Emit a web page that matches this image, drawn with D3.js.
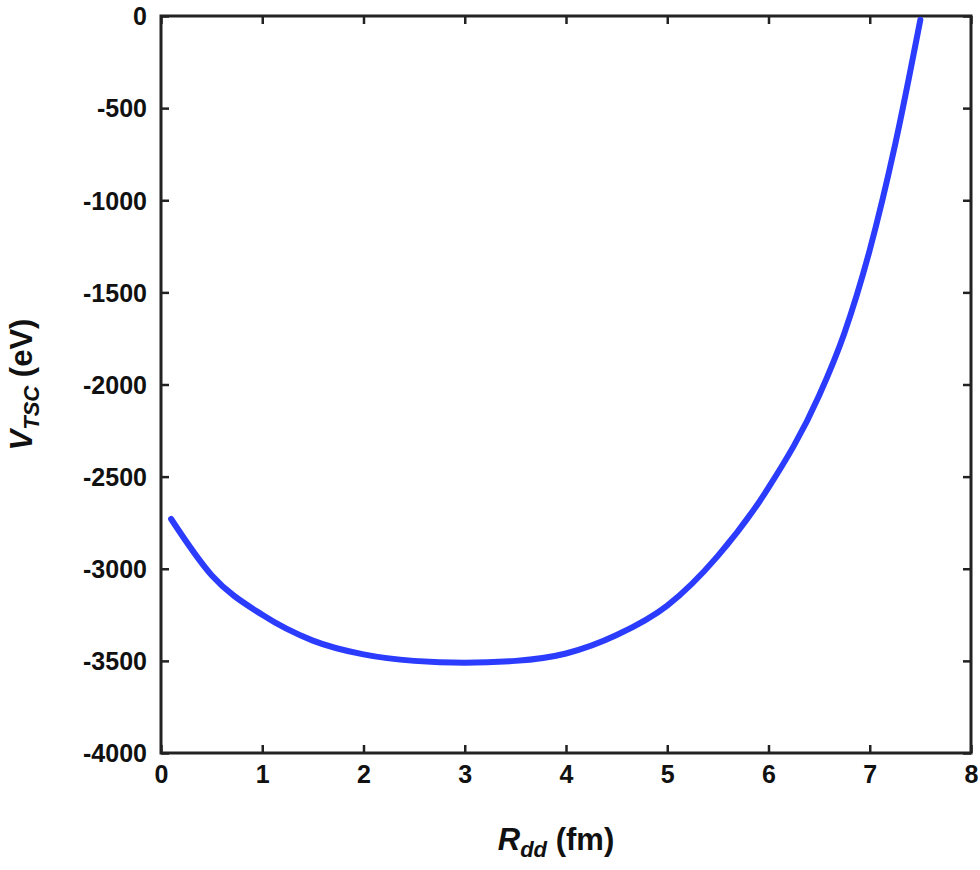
<!DOCTYPE html><html><head><meta charset="utf-8"><script src="https://cdn.jsdelivr.net/npm/d3@7"></script>
<style>body{margin:0;background:#fff}text{font-family:"Liberation Sans",Arial,sans-serif;font-weight:bold;fill:#111}</style></head><body>
<script>
const xs=[0.1,0.5,1,1.5,2,2.5,3,3.5,4,4.5,5,5.5,6,6.5,6.75,7,7.25,7.5];
const ys=[-2730,-3035,-3250,-3390,-3465,-3500,-3510,-3500,-3460,-3360,-3200,-2930,-2560,-2060,-1720,-1270,-700,-20];
const xTicks=[0,1,2,3,4,5,6,7,8];
const yTicks=[0,-500,-1000,-1500,-2000,-2500,-3000,-3500,-4000];
const W=980,H=870,L=161,R=971,T=16,B=753;
const svg=d3.select("body").append("svg").attr("width",W).attr("height",H);
const x=d3.scaleLinear().domain([0,8]).range([L,R]);
const y=d3.scaleLinear().domain([-4000,0]).range([B,T]);
const fmt=d=>String(d);
svg.append("g").attr("transform",`translate(0,${B})`).call(d3.axisBottom(x).tickValues(xTicks).tickSize(-8).tickPadding(12).tickFormat(fmt))
 .call(g=>{g.select(".domain").remove();g.selectAll("text").style("font-size","25px");});
svg.append("g").attr("transform",`translate(${L},0)`).call(d3.axisLeft(y).tickValues(yTicks).tickSize(-8).tickPadding(14).tickFormat(fmt))
 .call(g=>{g.select(".domain").remove();g.selectAll("text").style("font-size","25px").attr("dy","0.35em");});
svg.append("g").attr("transform",`translate(0,${T})`).call(d3.axisTop(x).tickValues(xTicks).tickSize(-8).tickFormat(""))
 .call(g=>g.select(".domain").remove());
svg.append("g").attr("transform",`translate(${R},0)`).call(d3.axisRight(y).tickValues(yTicks).tickSize(-8).tickFormat(""))
 .call(g=>g.select(".domain").remove());
svg.selectAll(".tick line").attr("stroke","#222").attr("stroke-width",2.5);
svg.append("rect").attr("x",L).attr("y",T).attr("width",R-L).attr("height",B-T).attr("fill","none").attr("stroke","#222").attr("stroke-width",3);
svg.append("path").datum(xs.map((d,i)=>[d,ys[i]])).attr("fill","none").attr("stroke","#2b3cff").attr("stroke-width",6).attr("stroke-linecap","round")
 .attr("d",d3.line().x(d=>x(d[0])).y(d=>y(d[1])).curve(d3.curveMonotoneX));
const xt=svg.append("text").attr("x",(L+R)/2-10).attr("y",850).attr("text-anchor","middle").style("font-size","31px");
xt.append("tspan").text("R").style("font-style","italic");
xt.append("tspan").text("dd").style("font-style","italic").style("font-size","22px").attr("dy",7);
xt.append("tspan").text(" (fm)").attr("dy",-7);
const yt=svg.append("text").attr("transform",`translate(32,${(T+B)/2}) rotate(-90)`).attr("text-anchor","middle").style("font-size","31px");
yt.append("tspan").text("V").style("font-style","italic");
yt.append("tspan").text("TSC").style("font-style","italic").style("font-size","22px").attr("dy",7);
yt.append("tspan").text(" (eV)").attr("dy",-7);
</script></body></html>
